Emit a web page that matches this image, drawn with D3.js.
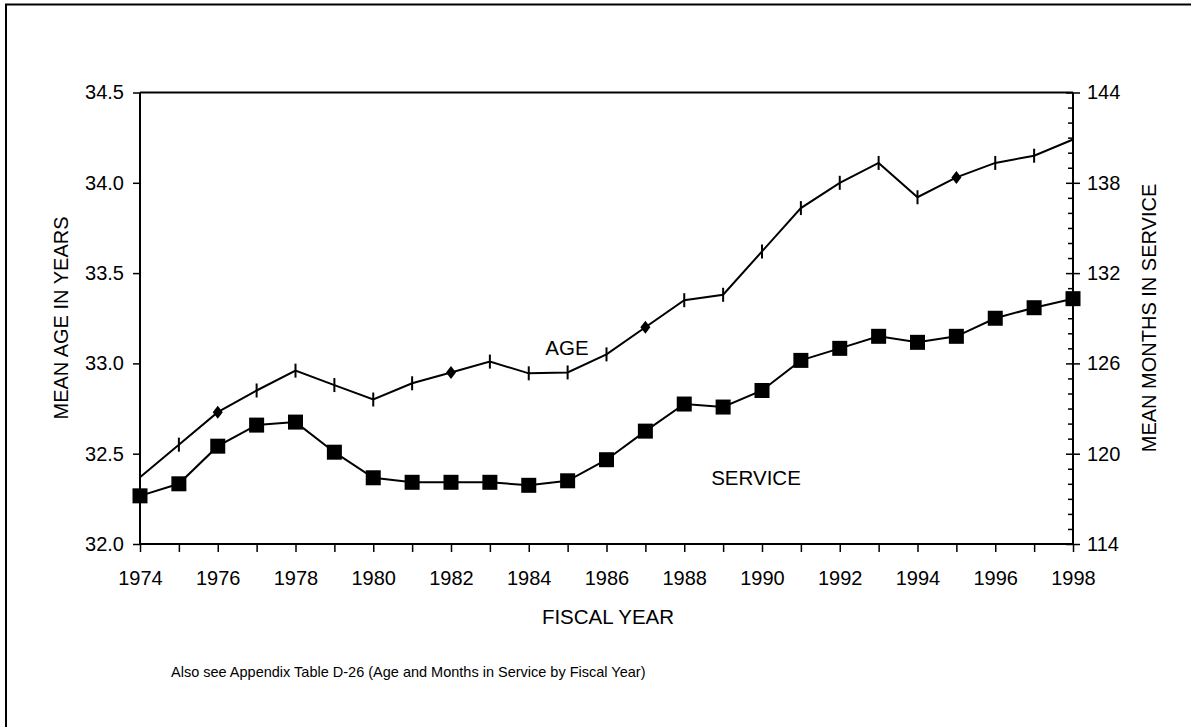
<!DOCTYPE html>
<html>
<head>
<meta charset="utf-8">
<script src="https://cdn.jsdelivr.net/npm/d3@7/dist/d3.min.js"></script>
<style>
  html, body { margin: 0; padding: 0; background: #fff; }
  svg { display: block; font-family: "Liberation Sans", Arial, sans-serif; }
</style>
</head>
<body>
<svg id="chart" width="1191" height="727"></svg>
<script>
// ---- data ----
const years = [1974,1975,1976,1977,1978,1979,1980,1981,1982,1983,1984,1985,1986,
               1987,1988,1989,1990,1991,1992,1993,1994,1995,1996,1997,1998];
const ageValues = [32.37,32.55,32.73,32.85,32.96,32.88,32.80,32.89,32.95,33.01,32.945,32.95,33.05,
                   33.20,33.35,33.38,33.62,33.86,34.00,34.11,33.92,34.03,34.11,34.15,34.24];
const serviceValues = [117.2,118.0,120.5,121.9,122.1,120.1,118.4,118.1,118.1,118.1,117.9,118.2,119.6,
                       121.5,123.3,123.1,124.2,126.2,127.0,127.8,127.4,127.8,129.0,129.7,130.3];
const diamondYears = [1976,1982,1987,1995];
const ageTicks = [32.0,32.5,33.0,33.5,34.0,34.5];
const serviceTicks = [114,120,126,132,138,144];
const xLabelYears = [1974,1976,1978,1980,1982,1984,1986,1988,1990,1992,1994,1996,1998];

(function(){
// ---- layout ----
const svg = d3.select("#chart");
const pL = 140, pR = 1073, pT = 92.5, pB = 544;

const x = d3.scaleLinear().domain([1974,1998]).range([pL,pR]);
const yAge = d3.scaleLinear().domain([32,34.5]).range([pB,pT]);
const ySvc = d3.scaleLinear().domain([114,144]).range([pB,pT]);
const FONT = "Liberation Sans, Arial, sans-serif";
const TICKFS = 20;

// outer border (left and top)
svg.append("path").attr("d","M6,727 L6,4.5 L1191,4.5")
   .attr("fill","none").attr("stroke","#000").attr("stroke-width",2);

// x axis
const xAxis = d3.axisBottom(x).tickValues(years).tickSize(8)
  .tickFormat(d => xLabelYears.includes(d) ? String(d) : "");
const gx = svg.append("g").attr("transform",`translate(0,${pB})`).call(xAxis);
gx.select(".domain").remove();
gx.selectAll("line").attr("stroke","#000").attr("stroke-width",1.5);
gx.selectAll("text").attr("font-size",TICKFS).attr("fill","#000").attr("y",41).attr("dy",0)
  .attr("font-family",FONT);

// left axis
const yl = d3.axisLeft(yAge).tickValues(ageTicks).tickSize(7).tickFormat(d3.format(".1f"));
const gyl = svg.append("g").attr("transform",`translate(${pL},0)`).call(yl);
gyl.select(".domain").remove();
gyl.selectAll("line").attr("stroke","#000").attr("stroke-width",1.5);
gyl.selectAll("text").attr("font-size",TICKFS).attr("fill","#000").attr("x",-16)
  .attr("font-family",FONT);

// right axis: minor ticks inward
const minorTicks = d3.range(114,145,1).filter(v => !serviceTicks.includes(v));
const yrMinor = d3.axisLeft(ySvc).tickValues(minorTicks).tickSize(5).tickFormat("");
const gym = svg.append("g").attr("transform",`translate(${pR},0)`).call(yrMinor);
gym.select(".domain").remove();
gym.selectAll("line").attr("stroke","#000").attr("stroke-width",1.5);
// major ticks crossing
const yrMajorIn = d3.axisLeft(ySvc).tickValues(serviceTicks).tickSize(7).tickFormat("");
const gyi = svg.append("g").attr("transform",`translate(${pR},0)`).call(yrMajorIn);
gyi.select(".domain").remove();
gyi.selectAll("line").attr("stroke","#000").attr("stroke-width",1.5);
const yr = d3.axisRight(ySvc).tickValues(serviceTicks).tickSize(7);
const gyr = svg.append("g").attr("transform",`translate(${pR},0)`).call(yr);
gyr.select(".domain").remove();
gyr.selectAll("line").attr("stroke","#000").attr("stroke-width",1.5);
gyr.selectAll("text").attr("font-size",TICKFS).attr("fill","#000").attr("x",14)
  .attr("font-family",FONT);

// frame
svg.append("path")
  .attr("d",`M${pL},${pT} L${pR},${pT} M${pL},${pT} L${pL},${pB} L${pR},${pB} M${pR},${pT} L${pR},${pB}`)
  .attr("fill","none").attr("stroke","#000").attr("stroke-width",2);

const ageData = years.map((yv,i)=>({year:yv, v:ageValues[i]}));
const svcData = years.map((yv,i)=>({year:yv, v:serviceValues[i]}));

// age line
svg.append("path").datum(ageData)
  .attr("d", d3.line().x(d=>x(d.year)).y(d=>yAge(d.v)))
  .attr("fill","none").attr("stroke","#000").attr("stroke-width",2);

svg.append("g").selectAll("line").data(ageData.filter(d=>!diamondYears.includes(d.year))).join("line")
  .attr("x1",d=>x(d.year)).attr("x2",d=>x(d.year))
  .attr("y1",d=>yAge(d.v)-7).attr("y2",d=>yAge(d.v)+7)
  .attr("stroke","#000").attr("stroke-width",2);

svg.append("g").selectAll("path").data(ageData.filter(d=>diamondYears.includes(d.year))).join("path")
  .attr("transform",d=>`translate(${x(d.year)},${yAge(d.v)})`)
  .attr("d","M0,-6.5 L5,0 L0,6.5 L-5,0 Z").attr("fill","#000");

// service line
svg.append("path").datum(svcData)
  .attr("d", d3.line().x(d=>x(d.year)).y(d=>ySvc(d.v)))
  .attr("fill","none").attr("stroke","#000").attr("stroke-width",2);

svg.append("g").selectAll("rect").data(svcData).join("rect")
  .attr("x",d=>x(d.year)-7.5).attr("y",d=>ySvc(d.v)-7.5)
  .attr("width",15).attr("height",15).attr("fill","#000");

// labels
const T = (t,xx,yy,fs,extra) => {
  const el = svg.append("text").attr("x",xx).attr("y",yy).attr("font-size",fs)
    .attr("font-family",FONT).attr("fill","#000").text(t);
  if (extra) extra(el);
  return el;
};
T("AGE", 567, 355, 20.5, e=>e.attr("text-anchor","middle"));
T("SERVICE", 756, 485, 20.5, e=>e.attr("text-anchor","middle"));
T("FISCAL YEAR", 608, 624, 20.5, e=>e.attr("text-anchor","middle"));
T("MEAN AGE IN YEARS", 0, 0, 20, e=>e.attr("text-anchor","middle")
  .attr("transform","translate(68,318) rotate(-90)"));
T("MEAN MONTHS IN SERVICE", 0, 0, 20, e=>e.attr("text-anchor","middle")
  .attr("transform","translate(1156,318) rotate(-90)"));
T("Also see Appendix Table D-26 (Age and Months in Service by Fiscal Year)", 171, 677, 14.5);
})();
</script>
</body>
</html>
